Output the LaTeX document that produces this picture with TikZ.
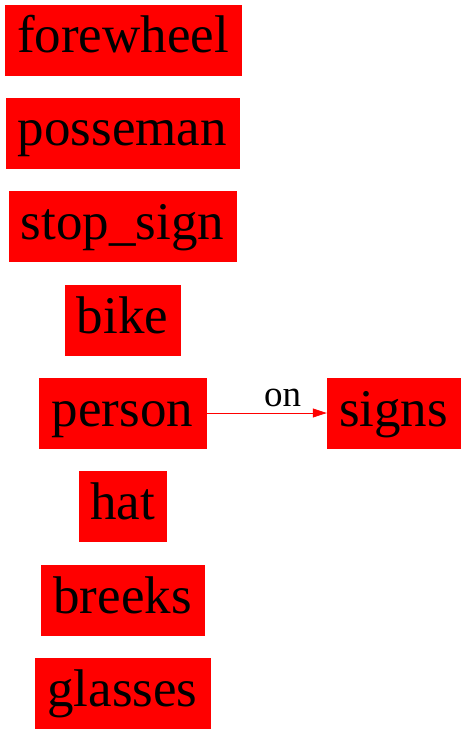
\documentclass[tikz,border=0pt]{standalone}
\usepackage{fontspec}
\setmainfont{Liberation Serif}
\usetikzlibrary{arrows.meta}
\begin{document}
\begin{tikzpicture}[x=1pt,y=-1pt,
  box/.style={fill=red,draw=red,inner sep=0pt,text height=48pt,text depth=22pt,
    font=\fontsize{53}{60}\selectfont,text=black},
  lbl/.style={font=\fontsize{37}{42}\selectfont,text=black},
  conn/.style={draw=red,line width=0.8pt,-{Triangle[length=14pt,width=9pt]}}]
\useasboundingbox (0,0) rectangle (465,733);
\node[box,minimum width=236pt] (forewheel) at (123,40) {forewheel};
\node[box,minimum width=233pt] (posseman) at (122.5,133) {posseman};
\node[box,minimum width=227pt] (stopsign) at (122.5,226.5) {stop\_sign};
\node[box,minimum width=115pt] (bike) at (122.5,320) {bike};
\node[box,minimum width=167pt] (person) at (122.5,413) {person};
\node[box,minimum width=87pt] (hat) at (122.5,506.5) {hat};
\node[box,minimum width=163pt] (breeks) at (122.5,600) {breeks};
\node[box,minimum width=175pt] (glasses) at (122.5,693) {glasses};
\node[box,minimum width=133pt] (signs) at (393.5,413) {signs};
\draw[conn] (person) -- node[lbl,above=2pt,xshift=16pt] {on} (signs);
\end{tikzpicture}
\end{document}
